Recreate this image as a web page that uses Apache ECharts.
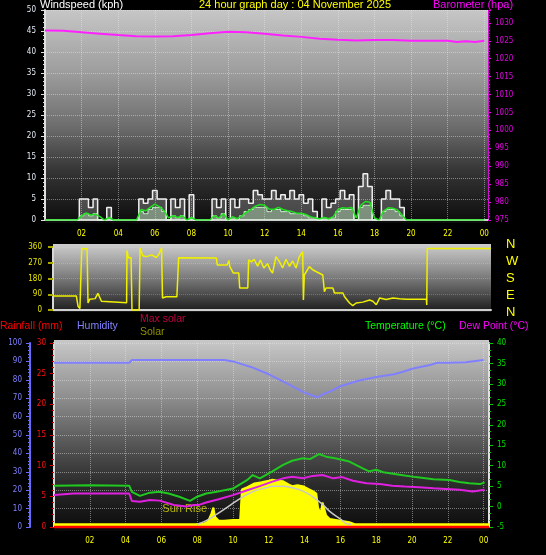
<!DOCTYPE html>
<html>
<head>
<meta charset="utf-8">
<script src="https://cdn.jsdelivr.net/npm/echarts@6/dist/echarts.min.js"></script>
<style>
html, body { margin: 0; padding: 0; background: #000; }
#chart { width: 546px; height: 555px; }
</style>
</head>
<body>
<div id="chart"></div>
<script>
// 24 hour weather graph - 04 November 2025
var hourTicks = [2, 4, 6, 8, 10, 12, 14, 16, 18, 20, 22, 24];

// barometer (hpa)
var baroHour = [0, 1, 2, 3, 4, 5, 6, 7, 8, 9, 10, 11, 12, 13, 14, 15, 16, 17, 18, 19, 20, 21, 22, 22.5, 23, 23.5, 24];
var baroHpa = [1027.9, 1027.8, 1027.4, 1027.0, 1026.6, 1026.3, 1026.2, 1026.3, 1026.6, 1027.1, 1027.5, 1027.4, 1027.0, 1026.5, 1026.1, 1025.6, 1025.3, 1025.1, 1025.2, 1025.2, 1025.0, 1025.0, 1025.0, 1024.7, 1024.9, 1024.7, 1025.0];

// wind speed (kph), one sample every 15 minutes from 00:00
var windGust = [0,0,0,0,0,0,0,0, 5,5,3,5,0,0,3,0, 0,0,0,0,0,5,4,5, 7,5,5,0,5,3,5,0, 6,0,0,0,0,5,3,5, 0,5,3,5,5,4,7,6, 5,5,7,5,6,5,7,5, 6,4,5,2,0,5,3,4, 5,7,5,6,0,8,11,8, 0,0,5,7,5,5,3,0, 0,0,0,0,0,0,0,0, 0,0,0,0,0,0,0,0, 0];
var windAvg = [0,0,0,0,0,0,0,0, 1,1.7,1.2,1.4,0.8,0,0.6,0, 0,0,0,0,0,2.5,2.2,3, 3.8,3.2,2.2,0.5,1,0.6,1,0, 0.6,0,0,0,0,1,0.5,1.5, 0,0.8,0.3,1,1.8,2.5,3.3,3.7, 3.5,2.6,2.5,3,2.5,2.2,2,1.6, 1.6,1.3,0.8,0.5,0.3,0.6,0.3,0.8, 2.5,2.9,2.8,3,0.5,3.5,4.4,4.2, 0.5,0,2.2,2.9,2.8,2.4,1.2,0, 0,0,0,0,0,0,0,0, 0,0,0,0,0,0,0,0, 0];
var windSpeed = [0,0,0,0,0,0,0,0, 1,1.5,1,1.5,0,0,0.5,0, 0,0,0,0,0,2,1.5,2.5, 3,3,2,0,1,0.5,1,0, 0.5,0,0,0,0,1,0.5,1.5, 0,0.5,0,1,2,2.5,3,3, 3,2,2.5,2.5,2,2,1.5,1.5, 1.5,1,0.5,0.5,0,0.5,0,0.5, 2,2.5,2.5,2.5,0,3,3.5,3.5, 0,0,2,2.5,2.5,2,1,0, 0,0,0,0,0,0,0,0, 0,0,0,0,0,0,0,0, 0];

// wind direction (degrees)
var dirHour = [0, 1.3, 1.4, 1.5, 1.6, 1.9, 1.95, 2.05, 2.35, 2.5, 2.7, 2.8, 4.1, 4.12, 4.2, 4.35, 4.4, 4.8, 4.85, 5.0, 5.2, 5.5, 5.75, 5.9, 6.05, 6.1, 6.2, 6.3, 6.9, 7.0, 9.1, 9.15, 9.7, 9.8, 9.85, 10.05, 10.35, 10.4, 10.85, 10.9, 11.05, 11.2, 11.4, 11.55, 11.75, 11.95, 12.1, 12.23, 12.42, 12.61, 12.79, 12.98, 13.17, 13.35, 13.54, 13.72, 13.91, 13.95, 14.0, 14.1, 14.28, 14.47, 14.65, 14.84, 15.03, 15.12, 15.21, 15.59, 15.68, 16.15, 16.24, 16.52, 16.7, 16.89, 17.26, 17.64, 17.82, 18.01, 18.2, 18.56, 18.94, 19.31, 19.68, 20.8, 20.82, 20.85, 24.4];
var dirDeg = [80, 80, 20, 8, 352, 350, 40, 62, 65, 95, 50, 42, 42, 340, 298, 298, 0, 0, 355, 310, 305, 315, 300, 318, 355, 69, 62, 76, 76, 299, 297, 257, 257, 283, 248, 211, 211, 126, 126, 286, 275, 290, 250, 285, 240, 265, 230, 211, 305, 277, 240, 290, 250, 280, 240, 305, 333, 57, 200, 205, 248, 230, 220, 210, 200, 105, 126, 126, 97, 97, 76, 40, 25, 40, 45, 57, 50, 30, 69, 60, 69, 64, 62, 61, 29, 352, 352];
var compass = ['N', 'W', 'S', 'E', 'N'];

// humidity (%)
var humHour = [0, 4.2, 4.35, 9.5, 10, 11, 12, 13, 14, 14.7, 15, 15.5, 16, 17, 18, 18.1, 19, 19.5, 20, 21, 21.4, 22, 23, 24];
var humPct = [89.3, 89.3, 90.8, 90.8, 90, 87, 83, 78, 73, 70.5, 72, 74, 76.5, 79.5, 81.5, 80.8, 83, 84.4, 86, 88, 89.3, 89.3, 89.6, 90.8];

// temperature and dew point (C)
var tempHour = [0, 2, 4.2, 4.35, 4.8, 5.35, 5.9, 6.4, 7.0, 7.6, 8.0, 8.5, 9.1, 10.0, 10.8, 11.1, 11.5, 12.2, 12.8, 13.3, 13.9, 14.3, 14.8, 15.2, 15.7, 16.5, 17.25, 17.6, 18.0, 18.4, 19.3, 20.2, 21.2, 22.1, 22.65, 23.2, 23.8, 24.05];
var tempC = [5.1, 5.2, 5.1, 3.6, 2.6, 3.4, 3.6, 3.2, 2.4, 1.4, 2.4, 3.2, 3.6, 4.4, 6.5, 7.7, 6.9, 8.6, 10.2, 11.2, 11.8, 11.6, 12.85, 12.2, 11.8, 11.0, 9.35, 8.6, 9.0, 8.4, 7.8, 7.2, 6.7, 6.5, 6.0, 5.7, 5.5, 5.9];
var dewHour = [0, 1.1, 4.2, 4.35, 4.8, 5.35, 5.9, 6.7, 7.4, 7.8, 8.1, 8.5, 9.2, 10.0, 10.8, 11.5, 12.2, 12.8, 13.3, 13.9, 14.45, 15.0, 15.6, 16.1, 16.7, 17.45, 18.2, 18.9, 19.6, 20.4, 21.2, 21.9, 22.65, 23.4, 24.05];
var dewC = [2.8, 3.2, 3.2, 1.35, 1.2, 1.6, 1.45, 0.4, 0.0, 0.4, 0.4, 1.0, 1.8, 2.8, 4.0, 5.0, 6.1, 6.9, 7.3, 6.9, 7.5, 7.7, 6.9, 7.2, 6.3, 5.7, 5.5, 5.1, 4.9, 4.7, 4.45, 4.3, 4.1, 3.7, 4.1];

// rainfall (mm)
var rainHour = [0, 24.3];
var rainMm = [0, 0];

// solar (W/m2)
var maxSolarHour = [8.0, 8.5, 9.1, 9.65, 10.2, 10.8, 11.3, 11.9, 12.2, 12.8, 13.3, 13.9, 14.4, 15.0, 15.4, 16.0, 16.4, 16.6];
var maxSolarW = [0, 20, 56, 92, 129, 165, 187, 201, 210, 210, 201, 183, 155, 110, 71, 29, 2, 0];
var solarHour = [0, 7.9, 8.0, 8.4, 8.6, 8.8, 8.9, 9.0, 9.2, 9.5, 10.0, 10.4, 10.5, 10.8, 11.2, 11.6, 12.0, 12.2, 12.5, 12.8, 13.1, 13.3, 13.6, 13.9, 14.2, 14.45, 14.65, 14.75, 14.9, 15.0, 15.1, 15.2, 15.4, 16.0, 16.5, 16.8, 24.3];
var solarW = [0, 0, 5, 5, 15, 60, 92, 40, 20, 20, 23, 25, 192, 205, 225, 232, 240, 246, 240, 237, 220, 210, 215, 210, 195, 183, 170, 92, 56, 120, 110, 49, 29, 20, 11, 0, 0];
var sunHour = [7.3, 17.1];
var sunText = ['Sun Rise', ''];

function zip(a, b) {
    var out = [];
    for (var i = 0; i < a.length; i++) out.push([a[i], b[i]]);
    return out;
}
function quarterHours(vals) {
    var out = [];
    for (var i = 0; i < vals.length; i++) out.push([i / 4, vals[i]]);
    return out;
}
function hourLabel(v) {
    if (hourTicks.indexOf(v) < 0) return '';
    var h = v % 24;
    return (h < 10 ? '0' : '') + h;
}

var chart = echarts.init(document.getElementById('chart'), null, { renderer: 'canvas' });

var smallFont = 'DejaVu Sans Condensed, Liberation Sans Narrow, sans-serif';
var textFont = 'Liberation Sans, Arial, sans-serif';
var dotted = { color: 'rgba(235,235,235,0.45)', type: 'dotted', width: 1 };

function panelBg(stops) {
    return { type: 'linear', x: 0, y: 0, x2: 0, y2: 1, colorStops: stops };
}

var option = {
    backgroundColor: '#000',
    animation: false,
    grid: [
        // backgrounds
        { left: 45, top: 10, width: 443, height: 213, show: true, borderWidth: 0,
          backgroundColor: panelBg([{ offset: 0, color: '#c6c6c6' }, { offset: 0.3, color: '#9c9c9c' }, { offset: 0.55, color: '#6c6c6c' }, { offset: 0.75, color: '#363636' }, { offset: 1, color: '#0c0c0c' }]) },
        { left: 45, top: 10, width: 443, height: 210 },
        { left: 53, top: 244, width: 438, height: 68, show: true, borderWidth: 0,
          backgroundColor: panelBg([{ offset: 0, color: '#cecece' }, { offset: 0.5, color: '#7a7a7a' }, { offset: 1, color: '#1a1a1a' }]) },
        { left: 53, top: 247, width: 438, height: 63 },
        { left: 54, top: 340, width: 435, height: 191, show: true, borderWidth: 0,
          backgroundColor: panelBg([{ offset: 0, color: '#c8c8c8' }, { offset: 0.3, color: '#8e8e8e' }, { offset: 0.55, color: '#555' }, { offset: 0.75, color: '#2c2c2c' }, { offset: 1, color: '#0a0a0a' }]) },
        { left: 54, top: 343, width: 435, height: 184 }
    ],
    xAxis: [
        { gridIndex: 1, type: 'value', min: 0, max: 24.2, interval: 2,
          axisLine: { lineStyle: { color: '#d0d0d0', width: 2 } },
          axisTick: { show: false },
          axisLabel: { color: '#ffff00', fontSize: 8, fontFamily: smallFont, margin: 10, formatter: hourLabel },
          splitLine: { show: true, lineStyle: dotted } },
        { gridIndex: 3, type: 'value', min: 0, max: 24.4, interval: 2,
          axisLine: { lineStyle: { color: '#d0d0d0', width: 2 } },
          axisTick: { show: false }, axisLabel: { show: false },
          splitLine: { show: false } },
        { gridIndex: 5, type: 'value', min: 0, max: 24.3, interval: 2,
          axisLine: { lineStyle: { color: '#d8d8d8', width: 2 } },
          axisTick: { show: false },
          axisLabel: { color: '#ffff00', fontSize: 8, fontFamily: smallFont, margin: 10, formatter: hourLabel },
          splitLine: { show: true, lineStyle: dotted } }
    ],
    yAxis: [
        { gridIndex: 1, type: 'value', min: 0, max: 50, interval: 5, position: 'left',
          axisLine: { show: true, lineStyle: { color: '#e0e0e0', width: 2 } },
          axisTick: { show: true, length: 4, lineStyle: { color: '#e0e0e0' } },
          minorTick: { show: true, splitNumber: 5, length: 2, lineStyle: { color: '#e0e0e0' } },
          axisLabel: { color: '#e4ecf4', fontSize: 8, fontFamily: smallFont, margin: 9 },
          splitLine: { show: true, lineStyle: dotted } },
        { gridIndex: 1, type: 'value', min: 975, max: 1033.6, interval: 5, position: 'right',
          axisLine: { show: true, lineStyle: { color: '#e000e0', width: 1, type: 'dotted' } },
          axisTick: { show: true, length: 3, lineStyle: { color: '#e000e0' } },
          minorTick: { show: true, splitNumber: 5, length: 2, lineStyle: { color: '#e000e0' } },
          axisLabel: { color: '#e000e0', fontSize: 8, fontFamily: smallFont, margin: 7,
                       formatter: function (v) { return v % 5 === 0 ? String(v) : ''; } },
          splitLine: { show: false } },
        { gridIndex: 3, type: 'value', min: 0, max: 360, interval: 90, position: 'left',
          axisLine: { show: true, lineStyle: { color: '#d8d8d8', width: 2 } },
          axisTick: { show: true, length: 5, lineStyle: { color: '#a8a800', width: 2 } },
          axisLabel: { color: '#e8e800', fontSize: 8, fontFamily: smallFont, margin: 11 },
          splitLine: { show: true, lineStyle: { color: 'rgba(235,235,235,0.25)', type: 'dotted' } } },
        { gridIndex: 5, type: 'value', min: 0, max: 30, interval: 5, position: 'left',
          axisLine: { show: true, lineStyle: { color: '#d8d8d8', width: 2 } },
          axisTick: { show: true, length: 4, lineStyle: { color: '#e00000' } },
          minorTick: { show: true, splitNumber: 5, length: 2, lineStyle: { color: '#e00000' } },
          axisLabel: { color: '#ff1010', fontSize: 8, fontFamily: smallFont, margin: 8 },
          splitLine: { show: false } },
        { gridIndex: 5, type: 'value', min: 0, max: 100, interval: 10, position: 'left', offset: 24,
          axisLine: { show: true, lineStyle: { color: '#6a6aff', width: 2 } },
          axisTick: { show: true, length: 4, lineStyle: { color: '#6a6aff' } },
          minorTick: { show: true, splitNumber: 5, length: 2, lineStyle: { color: '#6a6aff' } },
          axisLabel: { color: '#8080ff', fontSize: 8, fontFamily: smallFont, margin: 8 },
          splitLine: { show: true, lineStyle: dotted } },
        { gridIndex: 5, type: 'value', min: -5, max: 40, interval: 5, position: 'right',
          axisLine: { show: true, lineStyle: { color: '#e0e0e0', width: 2 } },
          axisTick: { show: true, length: 4, lineStyle: { color: '#00d000' } },
          minorTick: { show: true, splitNumber: 3, length: 2, lineStyle: { color: '#00d000' } },
          axisLabel: { color: '#00e000', fontSize: 8, fontFamily: smallFont, margin: 8 },
          splitLine: { show: false } },
        { gridIndex: 5, type: 'value', min: -15, max: 1000, show: false }
    ],
    graphic: [
        { type: 'text', x: 40, y: 5, style: { text: 'Windspeed (kph)', fill: '#ffffff', font: '11px ' + textFont, verticalAlign: 'middle', textVerticalAlign: 'middle' } },
        { type: 'text', x: 295, y: 5, style: { text: '24 hour graph day : 04 November 2025', fill: '#ffff00', font: '11px ' + textFont, align: 'center', textAlign: 'center', verticalAlign: 'middle', textVerticalAlign: 'middle' } },
        { type: 'text', x: 433, y: 5, style: { text: 'Barometer (hpa)', fill: '#ff00ff', font: '11px ' + textFont, verticalAlign: 'middle', textVerticalAlign: 'middle' } },
        { type: 'group', left: 506, top: 238, children: compass.map(function (c, i) {
            return { type: 'text', x: 0, y: i * 17, style: { text: c, fill: '#ffff00', font: '13px ' + textFont } };
        }) },
        { type: 'text', x: 0, y: 326, style: { text: 'Rainfall (mm)', fill: '#ff0000', font: '10.5px ' + textFont, verticalAlign: 'middle', textVerticalAlign: 'middle' } },
        { type: 'text', x: 77, y: 326, style: { text: 'Humidity', fill: '#8080ff', font: '10.5px ' + textFont, verticalAlign: 'middle', textVerticalAlign: 'middle' } },
        { type: 'text', x: 140, y: 319, style: { text: 'Max solar', fill: '#c00040', font: '10.5px ' + textFont, verticalAlign: 'middle', textVerticalAlign: 'middle' } },
        { type: 'text', x: 140, y: 332, style: { text: 'Solar', fill: '#909000', font: '10.5px ' + textFont, verticalAlign: 'middle', textVerticalAlign: 'middle' } },
        { type: 'text', x: 365, y: 326, style: { text: 'Temperature (°C)', fill: '#00ff00', font: '10.5px ' + textFont, verticalAlign: 'middle', textVerticalAlign: 'middle' } },
        { type: 'text', x: 459, y: 326, style: { text: 'Dew Point (°C)', fill: '#ff00ff', font: '10.5px ' + textFont, verticalAlign: 'middle', textVerticalAlign: 'middle' } }
    ],
    series: [
        // top panel
        { name: 'Gust', type: 'line', xAxisIndex: 0, yAxisIndex: 0, step: 'middle', symbol: 'none',
          data: quarterHours(windGust), lineStyle: { color: '#f0f0f0', width: 1.5 },
          areaStyle: { color: 'rgba(235,235,235,0.35)' } },
        { name: 'Wind speed', type: 'line', xAxisIndex: 0, yAxisIndex: 0, step: 'middle', symbol: 'none',
          data: quarterHours(windSpeed), lineStyle: { color: '#c8f0c8', width: 1 },
          areaStyle: { color: 'rgba(200,245,200,0.6)' } },
        { name: 'Average', type: 'line', xAxisIndex: 0, yAxisIndex: 0, symbol: 'none',
          data: quarterHours(windAvg), lineStyle: { color: '#20e020', width: 1.5 } },
        { name: 'Barometer', type: 'line', xAxisIndex: 0, yAxisIndex: 1, symbol: 'none',
          data: zip(baroHour, baroHpa), lineStyle: { color: '#ff20ff', width: 2 } },
        // wind direction
        { name: 'Direction', type: 'line', xAxisIndex: 1, yAxisIndex: 2, symbol: 'none', clip: false,
          data: zip(dirHour, dirDeg), lineStyle: { color: '#f0f000', width: 1.5 } },
        // bottom panel
        { name: 'Solar', type: 'line', xAxisIndex: 2, yAxisIndex: 6, symbol: 'none', clip: false,
          data: zip(solarHour, solarW), lineStyle: { color: '#ffff00', width: 2 },
          areaStyle: { color: '#ffff00', opacity: 1, origin: 'start' } },
        { name: 'Max solar', type: 'line', xAxisIndex: 2, yAxisIndex: 6, symbol: 'none', smooth: true,
          data: zip(maxSolarHour, maxSolarW), lineStyle: { color: '#c8c8c8', width: 1.5 } },
        { name: 'Humidity', type: 'line', xAxisIndex: 2, yAxisIndex: 4, symbol: 'none',
          data: zip(humHour, humPct), lineStyle: { color: '#8080ff', width: 2 } },
        { name: 'Temperature', type: 'line', xAxisIndex: 2, yAxisIndex: 5, symbol: 'none',
          data: zip(tempHour, tempC), lineStyle: { color: '#20c820', width: 2 } },
        { name: 'Dew Point', type: 'line', xAxisIndex: 2, yAxisIndex: 5, symbol: 'none',
          data: zip(dewHour, dewC), lineStyle: { color: '#e020e0', width: 2 } },
        { name: 'Rainfall', type: 'line', xAxisIndex: 2, yAxisIndex: 3, symbol: 'none', clip: false,
          data: zip(rainHour, rainMm), lineStyle: { color: '#ff0000', width: 2.5 } },
        { name: 'Sun', type: 'scatter', xAxisIndex: 2, yAxisIndex: 6, symbolSize: 0, clip: false,
          data: sunHour.map(function (h, i) { return { value: [h, 84], label: { formatter: sunText[i] } }; }),
          label: { show: true, position: 'inside', color: '#d8d800', fontSize: 11, fontFamily: textFont },
          markLine: { silent: true, symbol: 'none', label: { show: false },
                      lineStyle: { color: '#a8a800', width: 2, type: 'solid' },
                      data: sunHour.map(function (h) { return [{ coord: [h, 72] }, { coord: [h, -20] }]; }) } }
    ]
};

chart.setOption(option);
window.addEventListener('resize', function () { chart.resize(); });
</script>
</body>
</html>
